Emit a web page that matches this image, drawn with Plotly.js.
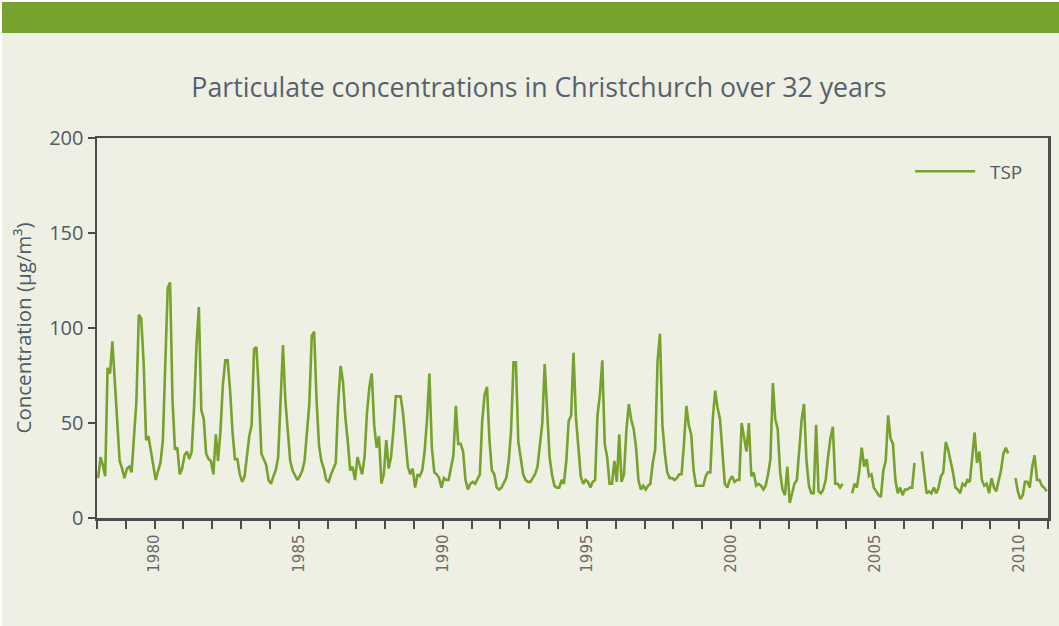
<!DOCTYPE html>
<html>
<head>
<meta charset="utf-8">
<script src="https://cdn.plot.ly/plotly-3.0.1.min.js"></script>
<style>
  body { margin: 0; background: #ffffff; }
  #chart { position: absolute; left: 2px; top: 2px; width: 1057px; height: 624px; }
</style>
</head>
<body>
<div id="chart"></div>
<script>
// Monthly TSP concentrations (ug/m3), January to December for each year
var startYear = 1978;

var tsp1978to1989 = [
    21, 32, 28, 22, 79, 76, 93, 70, 48, 30, 26, 21,       // 1978
    26, 27, 24, 46, 61, 107, 105, 82, 41, 43, 35, 28,     // 1979
    20, 25, 29, 41, 78, 121, 124, 62, 36, 37, 23, 26,     // 1980
    33, 35, 31, 35, 58, 91, 111, 57, 52, 34, 31, 30,      // 1981
    23, 44, 30, 46, 70, 83, 83, 67, 45, 31, 31, 23,       // 1982
    19, 22, 32, 43, 49, 89, 90, 66, 34, 31, 28, 20,       // 1983
    18, 22, 25, 32, 62, 91, 62, 44, 30, 25, 22, 20,       // 1984
    22, 25, 30, 44, 60, 96, 98, 62, 38, 30, 26, 20,       // 1985
    19, 23, 26, 29, 60, 80, 72, 53, 40, 25, 27, 20,       // 1986
    32, 27, 23, 32, 55, 69, 76, 49, 37, 43, 18, 23,       // 1987
    41, 26, 32, 46, 64, 64, 64, 55, 41, 27, 23, 26,       // 1988
    16, 23, 22, 25, 35, 52, 76, 37, 24, 23, 21, 16        // 1989
];

var tsp1990to1999 = [
    21, 20, 20, 27, 33, 59, 39, 39, 35, 20, 15, 18,       // 1990
    19, 18, 20, 23, 51, 65, 69, 41, 25, 23, 16, 15,       // 1991
    16, 19, 21, 30, 46, 82, 82, 40, 30, 23, 20, 19,       // 1992
    19, 21, 23, 27, 40, 50, 81, 53, 32, 23, 17, 16,       // 1993
    16, 20, 18, 30, 51, 54, 87, 53, 37, 22, 18, 20,       // 1994
    19, 16, 19, 20, 54, 65, 83, 39, 32, 18, 18, 30,       // 1995
    19, 44, 19, 23, 46, 60, 52, 47, 37, 20, 15, 17,       // 1996
    15, 17, 18, 29, 36, 83, 97, 49, 34, 24, 21, 21,       // 1997
    20, 21, 23, 23, 39, 59, 49, 44, 25, 17, 17, 17,       // 1998
    17, 22, 24, 24, 52, 67, 58, 52, 36, 18, 16, 20        // 1999
];

var tsp2000to2010 = [
    22, 19, 20, 20, 50, 42, 35, 50, 22, 24, 17, 18,       // 2000
    17, 15, 17, 23, 31, 71, 52, 47, 24, 15, 12, 27,       // 2001
    8, 13, 18, 20, 36, 52, 60, 30, 17, 13, 13, 49,        // 2002
    14, 13, 15, 20, 32, 42, 48, 18, 18, 16, 18, null,     // 2003
    null, null, 13, 18, 16, 25, 37, 27, 31, 22, 23, 16,   // 2004
    14, 12, 11, 25, 30, 54, 42, 39, 20, 13, 16, 12,       // 2005
    15, 15, 16, 16, 29, null, null, 35, 24, 13, 14, 13,   // 2006
    16, 13, 16, 22, 24, 40, 36, 30, 24, 16, 15, 13,       // 2007
    18, 17, 20, 19, 32, 45, 29, 35, 20, 17, 18, 13,       // 2008
    21, 16, 14, 19, 25, 34, 37, 34, null, null, 21, 14,   // 2009
    10, 12, 19, 19, 16, 27, 33, 20, 20, 17, 16, 14        // 2010
];

var tsp = tsp1978to1989.concat(tsp1990to1999, tsp2000to2010);

// one date per monthly value, mid-month
var months = tsp.map(function (v, i) {
    var yr = startYear + Math.floor(i / 12);
    var mo = (i % 12) + 1;
    return yr + '-' + (mo < 10 ? '0' + mo : mo) + '-15';
});

var textColor = '#4f5b66';
var axisColor = '#4d4d4d';
var lineGreen = '#77a22d';

var data = [{
    type: 'scatter',
    mode: 'lines',
    name: '\u00a0\u00a0TSP',
    x: months,
    y: tsp,
    connectgaps: false,
    line: { color: lineGreen, width: 2.6 }
}];

var layout = {
    width: 1057,
    height: 624,
    paper_bgcolor: '#eef0e3',
    plot_bgcolor: '#eef0e3',
    margin: { l: 95, r: 11, t: 136, b: 108 },
    font: { family: 'Open Sans, sans-serif', color: textColor },
    title: {
        text: 'Particulate concentrations in Christchurch over 32 years',
        font: { family: 'Open Sans, sans-serif', size: 26.7, color: '#55626e' },
        x: 0.508, xanchor: 'center',
        y: 0.862, yanchor: 'middle', yref: 'container'
    },
    showlegend: true,
    legend: {
        x: 0.855, xanchor: 'left',
        y: 0.962, yanchor: 'top',
        bgcolor: 'rgba(0,0,0,0)',
        itemwidth: 60,
        font: { size: 19, color: textColor }
    },
    xaxis: {
        type: 'date',
        range: ['1978-01-01', '2011-01-01'],
        tick0: '1980-01-01',
        dtick: 'M60',
        tickformat: '%Y',
        tickangle: -90,
        ticks: 'outside',
        ticklen: 8,
        tickwidth: 2,
        tickcolor: axisColor,
        minor: { dtick: 'M12', ticks: 'outside', ticklen: 8, tickwidth: 2, tickcolor: axisColor },
        tickfont: { family: 'DejaVu Sans, sans-serif', size: 15, color: '#6a6a6a' },
        showline: true,
        linecolor: axisColor,
        linewidth: 2.5,
        mirror: true,
        showgrid: false,
        zeroline: false
    },
    yaxis: {
        range: [0, 200],
        dtick: 50,
        ticks: 'outside',
        ticklen: 7,
        tickwidth: 2,
        tickcolor: axisColor,
        tickfont: { size: 20, color: textColor },
        title: {
            text: 'Concentration (μg/m³)',
            font: { size: 20.5, color: textColor },
            standoff: 12
        },
        showline: true,
        linecolor: axisColor,
        linewidth: 2.5,
        mirror: true,
        showgrid: false,
        zeroline: false
    },
    // green band across the top of the panel
    shapes: [{
        type: 'rect',
        xref: 'paper', yref: 'paper',
        x0: -0.1, x1: 1.02,
        y0: 1.2763, y1: 1.36,
        fillcolor: '#78a22f',
        line: { width: 0 },
        layer: 'below'
    }]
};

Plotly.newPlot('chart', data, layout, { displayModeBar: false, staticPlot: true });
</script>
</body>
</html>
